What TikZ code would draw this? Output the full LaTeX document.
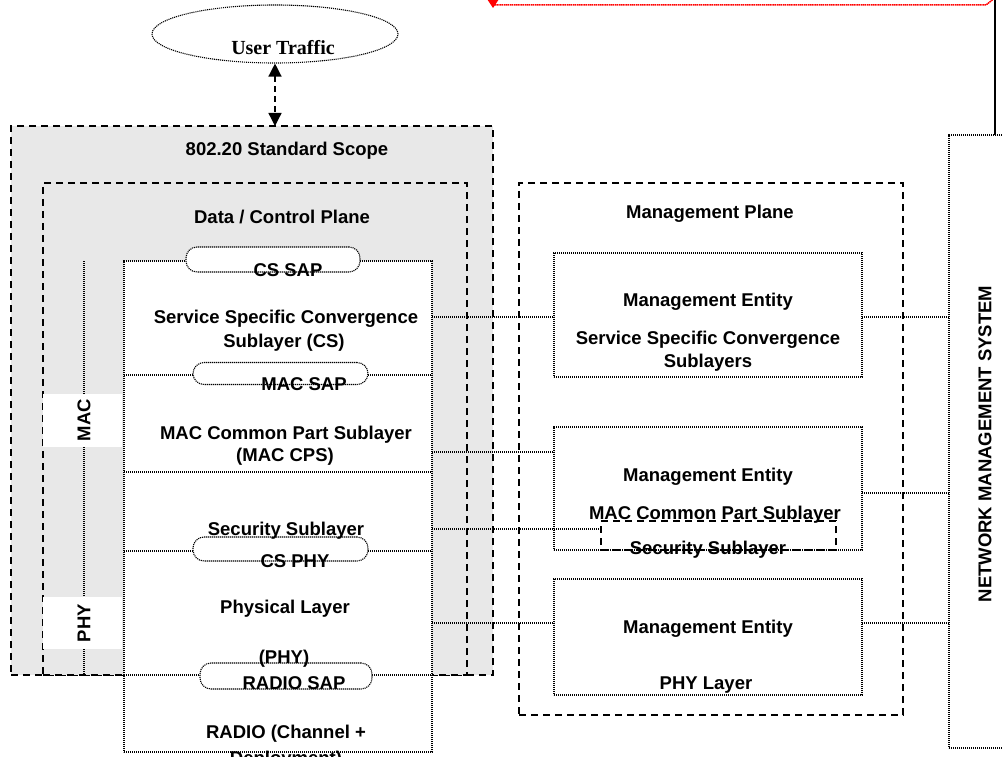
\documentclass[tikz,border=0pt]{standalone}
\usepackage{fontspec}
\setmainfont{Liberation Sans}
\newfontfamily\tnr{Liberation Serif}
\usetikzlibrary{shapes.geometric,arrows.meta}
\definecolor{scopegray}{HTML}{E8E8E8}
\tikzset{
  dotb/.style={draw, line width=1.1pt, dash pattern=on 1.1pt off 0.9pt},
  dashb/.style={draw, line width=1.3pt, dash pattern=on 7pt off 5pt},
  lbl/.style={font=\fontsize{18.5}{22}\selectfont\bfseries, inner sep=0pt, anchor=base},
  box/.style={dotb, fill=white, inner sep=0pt, outer sep=0pt},
  sap/.style={dotb, fill=white, rounded corners=11pt, inner sep=0pt, outer sep=0pt},
  region/.style={dashb, fill=scopegray, inner sep=0pt, outer sep=0pt},
  conn/.style={line width=1.1pt, dash pattern=on 1.1pt off 0.9pt},
  whitetab/.style={fill=white, inner sep=0pt, outer sep=0pt, minimum width=79pt},
  vlbl/.style={font=\fontsize{18.5}{22}\selectfont\bfseries, inner sep=0pt, rotate=90},
}
\begin{document}
\begin{tikzpicture}[x=1pt,y=-1pt]
\useasboundingbox (0,0) rectangle (1002,757);
\clip (0,0) rectangle (1002,757);

% red line at the top and NMS link
\coordinate (redL) at (493,5);
\coordinate (redR) at (986,5);
\coordinate (redEnd) at (996,-3);
\draw[red, line width=1.5pt, dash pattern=on 1.5pt off 0.6pt] (redL) -- (redR) -- (redEnd);
\fill[red] (487,-1) -- (499,-1) -- (493,8) -- cycle;

% regions
\node[region, minimum width=482pt, minimum height=549pt] (scope) at (252,400.5) {};
\node[region, minimum width=424pt, minimum height=492pt] (dcp) at (255,429) {};
\node[lbl] (scopeT) at (287,155.5) {802.20 Standard Scope};
\node[lbl] (dcpT) at (282,223.5) {Data / Control Plane};

% user traffic
\node[ellipse, dotb, minimum width=246pt, minimum height=58pt, inner sep=0pt] (ut) at (275,34) {};
\node[font=\tnr\fontsize{20}{24}\selectfont\bfseries, inner sep=0pt, anchor=base] (utT) at (283,55) {User Traffic};
\draw[line width=1.3pt, dash pattern=on 6pt off 4pt, {Triangle[length=13pt,width=13pt]}-{Triangle[length=13pt,width=13pt]}] (ut.south) -- (scope.north -| ut.south);

% MAC / PHY side labels
\coordinate (sideTop) at (84,261);
\coordinate (sideBot) at (84,675);
\draw[conn] (sideTop) -- (sideBot);
\node[whitetab, minimum height=53pt] (macTab) at (82.5,420.5) {};
\node[whitetab, minimum height=52pt] (phyTab) at (82.5,623) {};
\node[vlbl] (macT) at (84,420) {MAC};
\node[vlbl] (phyT) at (84,623) {PHY};

% protocol stack
\node[box, minimum width=308pt, minimum height=491pt] (stack) at (278,506.5) {};
\coordinate (d1) at (0,375);
\coordinate (d2) at (0,472);
\coordinate (d3) at (0,551);
\coordinate (d4) at (0,675);
\draw[conn] (stack.west |- d1) -- (stack.east |- d1);
\draw[conn] (stack.west |- d2) -- (stack.east |- d2);
\draw[conn] (stack.west |- d3) -- (stack.east |- d3);
\draw[conn] (stack.west |- d4) -- (stack.east |- d4);

\node[sap, minimum width=174pt, minimum height=25pt] (cssap) at (273,259.5) {};
\node[sap, minimum width=175pt, minimum height=22pt] (macsap) at (280.5,373.5) {};
\node[sap, minimum width=175pt, minimum height=24pt] (csphy) at (280.5,549) {};
\node[sap, minimum width=172pt, minimum height=26pt] (radiosap) at (286,676) {};

\node[lbl] (t1) at (288,276.5) {CS SAP};
\node[lbl] (t2) at (286,323.5) {Service Specific Convergence};
\node[lbl] (t3) at (284,347.5) {Sublayer (CS)};
\node[lbl] (t4) at (304,390.5) {MAC SAP};
\node[lbl] (t5) at (286,439.5) {MAC Common Part Sublayer};
\node[lbl] (t6) at (285,461.5) {(MAC CPS)};
\node[lbl] (t7) at (286,535.5) {Security Sublayer};
\node[lbl] (t8) at (295,567.5) {CS PHY};
\node[lbl] (t9) at (285,613.5) {Physical Layer};
\node[lbl] (t10) at (284,663.5) {(PHY)};
\node[lbl] (t11) at (294,689.5) {RADIO SAP};
\node[lbl] (t12) at (286,738.5) {RADIO (Channel +};
\node[lbl] (t13) at (286,764) {Deployment)};

% management plane
\node[dashb, inner sep=0pt, outer sep=0pt, minimum width=384pt, minimum height=532pt] (mgmt) at (711,449) {};
\node[lbl] (mgmtT) at (710,218.5) {Management Plane};
\node[box, minimum width=308pt, minimum height=124pt] (me1) at (708,315) {};
\node[box, minimum width=308pt, minimum height=123pt] (me2) at (708,488.5) {};
\node[dashb, inner sep=0pt, outer sep=0pt, minimum width=235pt, minimum height=29pt] (secbox) at (718.5,535.5) {};
\node[box, minimum width=308pt, minimum height=116pt] (me3) at (708,637) {};

\node[lbl] (m1a) at (708,306.5) {Management Entity};
\node[lbl] (m1b) at (708,344.5) {Service Specific Convergence};
\node[lbl] (m1c) at (708,367.5) {Sublayers};
\node[lbl] (m2a) at (708,481.5) {Management Entity};
\node[lbl] (m2b) at (715,519.5) {MAC Common Part Sublayer};
\node[lbl] (m2c) at (708,554.5) {Security Sublayer};
\node[lbl] (m3a) at (708,633.5) {Management Entity};
\node[lbl] (m3b) at (706,689.5) {PHY Layer};

% network management system
\node[box, minimum width=70pt, minimum height=613pt, anchor=north west] (nms) at (949,135) {};
\node[vlbl] (nmsT) at (985,444) {NETWORK MANAGEMENT SYSTEM};
\coordinate (nmsLink) at (995,135);
\coordinate (nmsLinkTop) at (995,-3);
\draw[line width=1.3pt] (nmsLink) -- (nmsLinkTop);

% connectors
\coordinate (c1) at (0,317);
\coordinate (c2) at (0,452);
\coordinate (c3) at (0,529);
\coordinate (c4) at (0,623);
\coordinate (c5) at (0,493);
\draw[conn] (stack.east |- c1) -- (me1.west |- c1);
\draw[conn] (stack.east |- c2) -- (me2.west |- c2);
\draw[conn] (stack.east |- c3) -- (secbox.west |- c3);
\draw[conn] (stack.east |- c4) -- (me3.west |- c4);
\draw[conn] (me1.east |- c1) -- (nms.west |- c1);
\draw[conn] (me2.east |- c5) -- (nms.west |- c5);
\draw[conn] (me3.east |- c4) -- (nms.west |- c4);
\end{tikzpicture}
\end{document}
